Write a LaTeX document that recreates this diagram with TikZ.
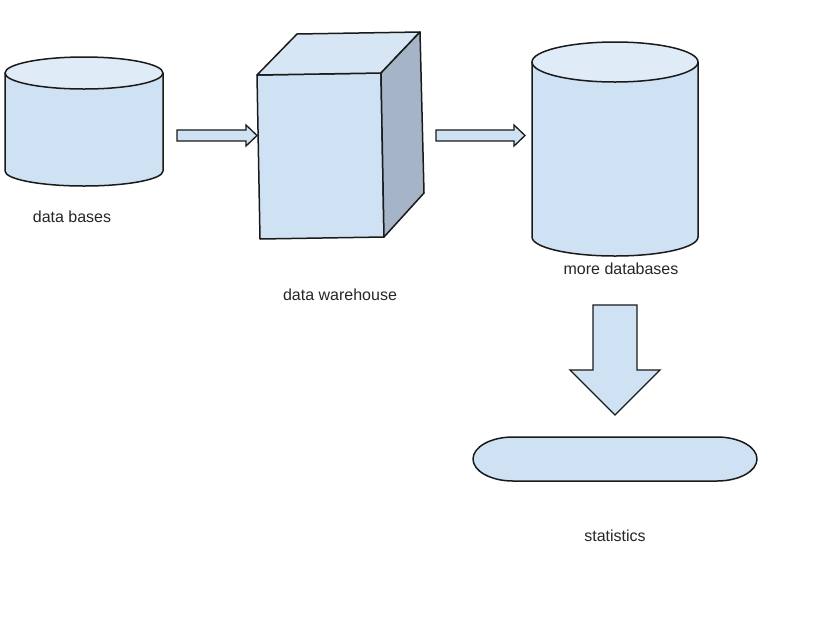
\documentclass[tikz,border=0pt]{standalone}
\usepackage{fontspec}
\setmainfont{Liberation Sans}
\definecolor{dbblue}{HTML}{CFE2F3}
\definecolor{dbtop}{HTML}{DFEBF7}
\definecolor{cubetop}{HTML}{D7E6F4}
\definecolor{cubeside}{HTML}{A5B5C7}
\definecolor{edge}{HTML}{1A1A1A}
\tikzset{
  shape3d/.style={draw=edge, line width=1.5pt, line join=round},
  body/.style={shape3d, fill=dbblue},
  lid/.style={shape3d, fill=dbtop},
  blockarrow/.style={draw=edge, line width=1.3pt, fill=dbblue, line join=miter},
  lbl/.style={font=\fontsize{16}{19}\selectfont, text=black!85, inner sep=1pt},
}

\begin{document}
\begin{tikzpicture}[x=1pt, y=1pt]
\useasboundingbox[fill=white] (0,0) rectangle (840,-630);

% ================= SOURCE : DATA BASES =================
\path[body] (5,-73) -- (5,-171) arc[start angle=180, end angle=360, x radius=79, y radius=15]
  -- (163,-73) -- cycle;
\path[lid] (84,-73) ellipse [x radius=79, y radius=16];
\node[lbl] (dblbl) at (72,-217) {data bases};

% ================= DATA WAREHOUSE (cube) =================
\path[body] (257,-75) -- (381,-73) -- (384,-237) -- (260,-239) -- cycle;
\path[shape3d, fill=cubetop] (257,-75) -- (297,-34) -- (420,-32) -- (381,-73) -- cycle;
\path[shape3d, fill=cubeside] (381,-73) -- (420,-32) -- (424,-193) -- (384,-237) -- cycle;
\node[lbl] (dwlbl) at (340,-295) {data warehouse};

% ================= MORE DATABASES =================
\path[body] (532,-62) -- (532,-237) arc[start angle=180, end angle=360, x radius=83, y radius=19]
  -- (698,-62) -- cycle;
\path[lid] (615,-62) ellipse [x radius=83, y radius=20];
\node[lbl] (mdblbl) at (621,-269) {more databases};

% ================= STATISTICS =================
\path[body] (513,-437) -- (717,-437) arc[start angle=90, end angle=-90, x radius=40, y radius=22]
  -- (513,-481) arc[start angle=270, end angle=90, x radius=40, y radius=22] -- cycle;
\node[lbl] (statlbl) at (615,-536) {statistics};

% ================= ARROWS =================
\path[blockarrow] (177,-130) -- (246,-130) -- (246,-125) -- (257,-135.5)
  -- (246,-146) -- (246,-141) -- (177,-141) -- cycle;
\path[blockarrow] (436,-130) -- (514,-130) -- (514,-125) -- (525,-135.5)
  -- (514,-146) -- (514,-141) -- (436,-141) -- cycle;
\path[blockarrow] (593,-305) -- (637,-305) -- (637,-370) -- (660,-370)
  -- (615,-415) -- (570,-370) -- (593,-370) -- cycle;

\end{tikzpicture}
\end{document}
